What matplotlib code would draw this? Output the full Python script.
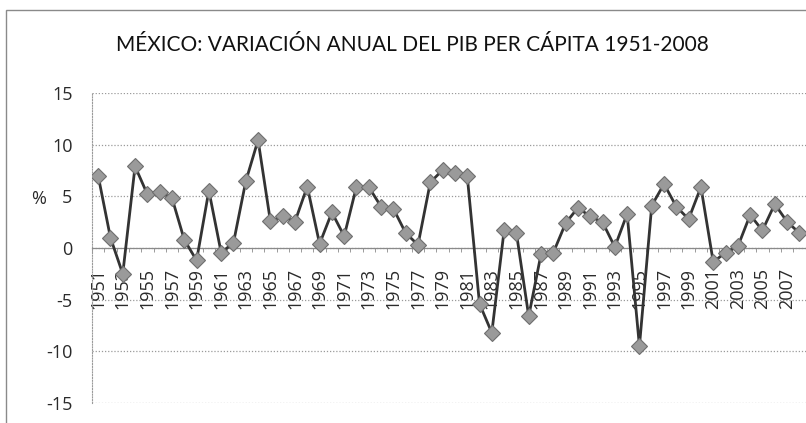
import matplotlib
matplotlib.use("Agg")
import matplotlib.pyplot as plt
from matplotlib.patches import Rectangle
from matplotlib.ticker import FixedLocator
from matplotlib.transforms import offset_copy

plt.rcParams["axes.unicode_minus"] = False

years = list(range(1951, 2009))
values = [7.0, 1.0, -2.5, 7.9, 5.2, 5.4, 4.85, 0.8, -1.2, 5.55,
          -0.45, 0.5, 6.45, 10.45, 2.6, 3.05, 2.55, 5.95, 0.4, 3.45,
          1.15, 5.95, 5.9, 4.0, 3.8, 1.45, 0.3, 6.35, 7.55, 7.3,
          7.0, -5.4, -8.2, 1.7, 1.45, -6.6, -0.6, -0.45, 2.4, 3.9,
          3.05, 2.5, 0.1, 3.3, -9.5, 4.1, 6.2, 4.0, 2.8, 5.9,
          -1.35, -0.45, 0.15, 3.2, 1.7, 4.25, 2.55, 1.45]
label_years = list(range(1951, 2009, 2))
y_ticks = [-15, -10, -5, 0, 5, 10, 15]
title = "MÉXICO: VARIACIÓN ANUAL DEL PIB PER CÁPITA 1951-2008"

W, H = 806, 423
fig = plt.figure(figsize=(W / 100, H / 100), dpi=100)
fig.patch.set_facecolor("white")

# outer chart border (extends past right/bottom edge as in the scan)
fig.patches.append(Rectangle((6 / W, -0.1), 1.2, (H - 10) / H + 0.1,
                             transform=fig.transFigure, fill=False,
                             edgecolor="#8a8a8a", linewidth=1.0))

left, right = 92, 805.5
top, bottom = 93, 403
ax = fig.add_axes([left / W, 1 - bottom / H, (right - left) / W, (bottom - top) / H])
ax.set_facecolor("white")

ax.plot(years, values, color="#333333", linewidth=2.0,
        marker="D", markersize=8, markerfacecolor="#9a9a9a",
        markeredgecolor="#6e6e6e", markeredgewidth=0.8, zorder=3)

ax.set_xlim(1950.5, 2008.5)
ax.set_ylim(-15, 15)
ax.set_yticks(y_ticks)
ax.yaxis.grid(True, color="#9a9a9a", linestyle=(0, (1, 1.5)), linewidth=0.9)
ax.set_axisbelow(True)

for s in ["top", "right"]:
    ax.spines[s].set_visible(False)
ax.spines["left"].set_color("#9a9a9a")
ax.spines["left"].set_linestyle((0, (1, 1.5)))
ax.spines["bottom"].set_position(("data", 0))
ax.spines["bottom"].set_color("#8a8a8a")
ax.spines["bottom"].set_linewidth(0.9)

ax.xaxis.set_major_locator(FixedLocator(label_years))
ax.set_xticklabels([])
ax.xaxis.set_minor_locator(FixedLocator([y + 0.5 for y in range(1950, 2009)]))
ax.tick_params(axis="x", which="major", length=0)
ax.tick_params(axis="x", which="minor", length=3, direction="out", color="#8a8a8a")
lab_tr = offset_copy(ax.transData, fig=fig, x=0, y=-20, units="dots")
for y in label_years:
    ax.text(y, 0, str(y), rotation=90, ha="center", va="top",
            fontsize=13, color="#2a2a2a", family="Open Sans",
            transform=lab_tr, zorder=2)

ax.tick_params(axis="y", length=0, pad=14)
for lab in ax.get_yticklabels():
    lab.set_fontsize(13)
    lab.set_color("#2a2a2a")
    lab.set_family("Open Sans")

fig.text(39 / W, 1 - 199 / H, "%", fontsize=13, color="#2a2a2a",
         ha="center", va="center", family="Open Sans")
fig.text(412 / W, 1 - 45 / H, title, fontsize=15, color="#111111",
         ha="center", va="center", family="Lato")

fig.savefig("out.png", dpi=100, facecolor="white")
